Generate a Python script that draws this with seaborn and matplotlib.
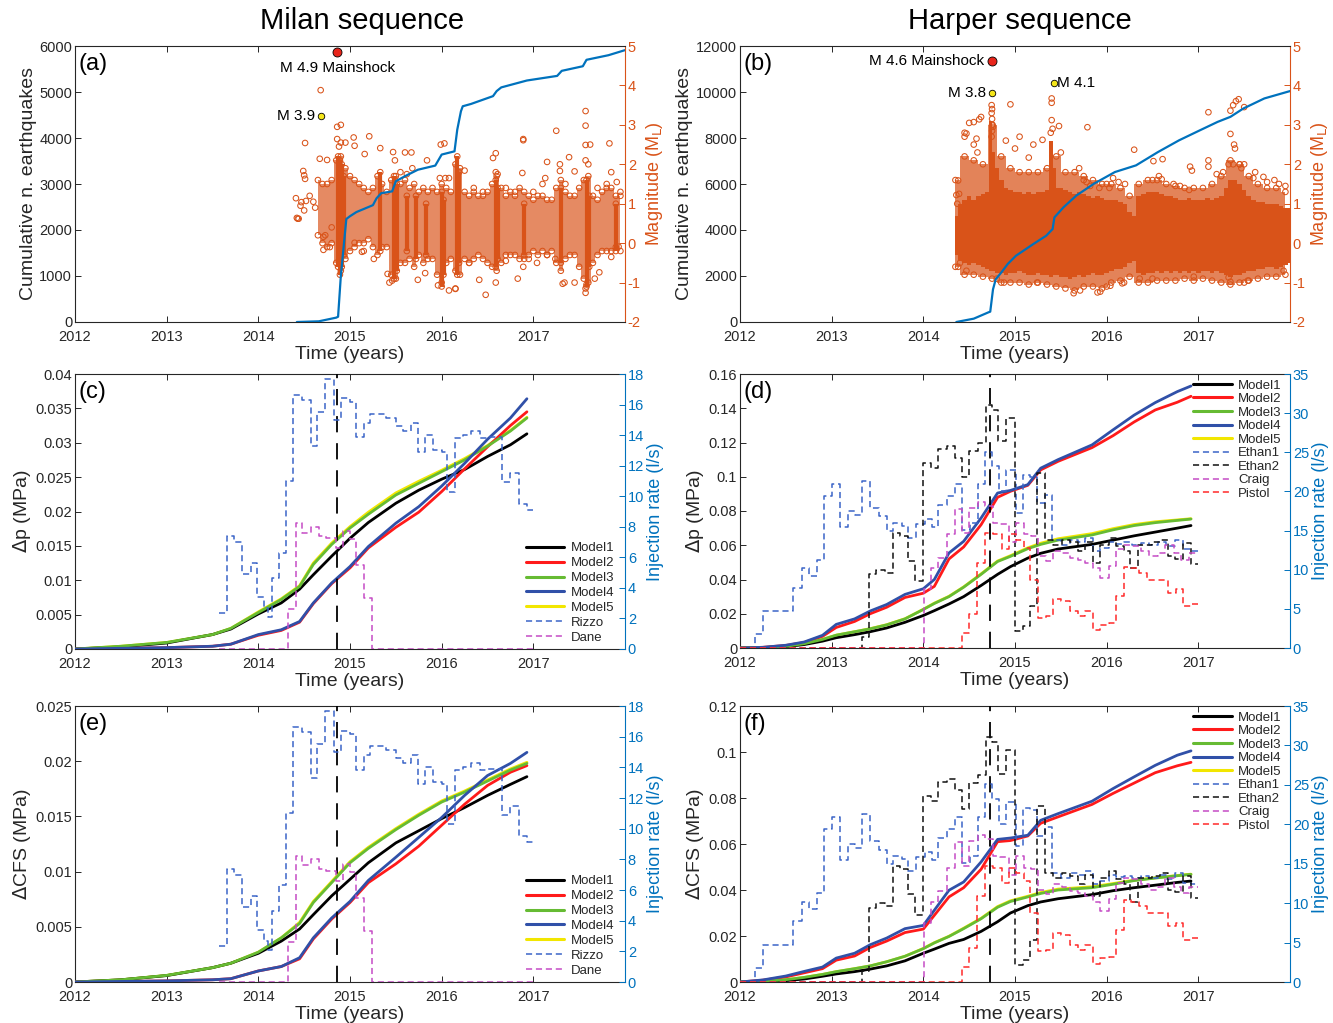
import matplotlib
matplotlib.use('Agg')
import numpy as np
import pandas as pd
import matplotlib.pyplot as plt
import seaborn as sns
from matplotlib.lines import Line2D
from matplotlib.ticker import FuncFormatter

# ------------------------------------------------------------------ data
years = [2012, 2013, 2014, 2015, 2016, 2017]

# (a) Milan: cumulative number of earthquakes
cum_a_t = [2014.42, 2014.66, 2014.85, 2014.87, 2014.90, 2014.96, 2015.0, 2015.07, 2015.25, 2015.29,
           2015.34, 2015.46, 2015.50, 2015.60, 2015.74, 2015.93, 2016.0, 2016.14, 2016.17, 2016.21,
           2016.23, 2016.32, 2016.56, 2016.60, 2016.65, 2016.93, 2017.26, 2017.31, 2017.54, 2017.58,
           2017.82, 2018.0]
cum_a_n = [0, 15, 95, 115, 1000, 2240, 2300, 2390, 2540, 2690, 2800, 2840, 3060, 3170, 3310, 3400,
           3640, 3710, 4180, 4580, 4690, 4740, 4910, 5020, 5100, 5250, 5350, 5460, 5560, 5700, 5800, 5910]

# (a) magnitude cloud: moderate-density band (t, low, high)
band_a = [(2014.65, 0.2, 1.6), (2014.70, 0.0, 1.5), (2014.75, -0.1, 1.5), (2014.80, 0.0, 1.6),
          (2014.85, -0.5, 2.1), (2014.90, -0.7, 2.2), (2014.95, -0.4, 1.9), (2015.00, -0.2, 1.7),
          (2015.05, -0.1, 1.6), (2015.10, 0.0, 1.5), (2015.15, 0.0, 1.4), (2015.20, 0.1, 1.3),
          (2015.25, -0.1, 1.4), (2015.30, -0.3, 1.7), (2015.35, -0.1, 1.5), (2015.40, -0.1, 1.3),
          (2015.45, -0.8, 1.6), (2015.50, -0.9, 1.7), (2015.55, -0.5, 1.5), (2015.60, -0.5, 1.6),
          (2015.65, -0.4, 1.4), (2015.70, -0.6, 1.5), (2015.75, -0.3, 1.3), (2015.80, -0.5, 1.4),
          (2015.85, -0.4, 1.3), (2015.90, -0.4, 1.4), (2015.95, -0.8, 1.3), (2016.00, -1.0, 1.5),
          (2016.05, -0.5, 1.4), (2016.10, -0.4, 1.3), (2016.15, -0.7, 2.0), (2016.20, -0.8, 1.9),
          (2016.25, -0.4, 1.3), (2016.30, -0.5, 1.2), (2016.35, -0.4, 1.3), (2016.40, -0.3, 1.2),
          (2016.45, -0.4, 1.2), (2016.50, -0.5, 1.3), (2016.55, -0.6, 1.5), (2016.60, -0.7, 1.7),
          (2016.65, -0.5, 1.4), (2016.70, -0.3, 1.2), (2016.75, -0.3, 1.3), (2016.80, -0.3, 1.2),
          (2016.85, -0.4, 1.4), (2016.90, -0.4, 1.3), (2016.95, -0.3, 1.2), (2017.00, -0.2, 1.1),
          (2017.05, -0.3, 1.2), (2017.10, -0.2, 1.2), (2017.15, -0.3, 1.1), (2017.20, -0.2, 1.1),
          (2017.25, -0.5, 1.4), (2017.30, -0.7, 1.6), (2017.35, -0.4, 1.3), (2017.40, -0.3, 1.2),
          (2017.45, -0.3, 1.2), (2017.50, -0.6, 1.4), (2017.55, -0.9, 1.6), (2017.60, -1.0, 1.7),
          (2017.65, -0.5, 1.2), (2017.70, -0.3, 1.1), (2017.75, -0.2, 1.3), (2017.80, -0.2, 1.4),
          (2017.85, -0.2, 1.4), (2017.90, -0.1, 1.2), (2017.95, -0.2, 1.2)]
# (a) dense vertical streaks (t, low, high)
streak_a = [(2014.87, -0.6, 2.2), (2014.89, -0.8, 2.1), (2014.91, -0.6, 2.0), (2014.93, -0.3, 1.7),
            (2015.33, -0.2, 1.8), (2015.48, -0.9, 1.7), (2015.51, -0.7, 1.5), (2015.62, -0.2, 1.2),
            (2015.72, -0.4, 1.2), (2015.83, -0.3, 1.0), (2016.00, -1.1, 1.3), (2016.02, -0.8, 1.1),
            (2016.17, -0.8, 2.2), (2016.19, -0.5, 1.8), (2016.59, -0.6, 1.6), (2016.61, -0.4, 1.4),
            (2016.90, -0.3, 1.0), (2017.30, -0.5, 1.4), (2017.58, -1.1, 1.6), (2017.61, -0.6, 1.2),
            (2017.90, -0.2, 1.0)]
# (a) isolated events (t, magnitude)
events_a = [(2014.41, 1.14), (2014.42, 0.64), (2014.44, 0.62), (2014.51, 2.54), (2014.49, 1.83),
            (2014.50, 1.72), (2014.51, 1.63), (2014.47, 1.04), (2014.52, 1.07), (2014.50, 0.83),
            (2014.46, 0.95), (2014.43, 0.62), (2014.60, 1.05), (2014.56, 1.2), (2014.62, 0.9),
            (2014.68, 3.88), (2014.67, 2.14), (2014.75, 2.11), (2014.71, 0.16), (2014.71, -0.17),
            (2014.80, 0.4), (2014.73, 0.2), (2014.78, -0.1), (2014.86, 2.95), (2014.90, 3.0),
            (2014.86, 2.64), (2014.90, 2.55), (2014.95, 2.55), (2014.88, 2.45), (2015.04, 2.68),
            (2015.21, 2.71), (2015.05, 2.47), (2015.16, 2.26), (2015.33, 2.41), (2015.47, 2.31),
            (2015.49, 2.1), (2015.05, 0.01), (2015.13, -0.22), (2015.15, -0.2), (2015.26, -0.40),
            (2015.41, -0.78), (2015.43, -1.0), (2015.46, -0.95), (2015.74, -0.93), (2015.82, -0.76),
            (2015.96, -1.07), (2016.15, -1.16), (2015.60, 2.3), (2015.67, 2.3), (2015.84, 2.1),
            (2015.99, 2.5), (2016.03, 2.53), (2015.55, 1.8), (2015.62, 1.75), (2015.68, 1.9),
            (2015.98, 1.65), (2016.04, 1.65), (2016.08, 1.65), (2017.57, 3.35), (2017.57, 2.98),
            (2017.25, 2.85), (2016.89, 2.64), (2016.89, 2.61), (2017.57, 2.49), (2017.62, 2.5),
            (2017.83, 2.53), (2016.59, 2.28), (2016.56, 2.16), (2017.15, 2.06), (2017.39, 2.18),
            (2017.57, 2.1), (2017.60, 2.0), (2017.29, 2.0), (2017.29, 1.83), (2017.45, 1.82),
            (2016.25, 1.84), (2016.59, 1.8), (2016.61, 1.75), (2016.88, 1.78), (2017.13, 1.65),
            (2017.85, 1.8), (2017.91, 1.55), (2016.41, -0.93), (2016.48, -1.31), (2016.83, -0.9),
            (2016.59, -1.0), (2017.04, -0.5), (2017.32, -1.03), (2017.45, -1.0), (2017.57, -1.26),
            (2017.57, -1.15), (2017.58, -1.05), (2017.67, -0.9), (2017.72, -0.74), (2016.89, -0.6),
            (2017.24, -0.4), (2016.08, -1.2), (2017.93, -0.09), (2016.15, -1.15), (2017.34, -1.0),
            (2016.35, 1.4), (2016.45, 1.3), (2016.70, 1.4), (2016.80, 1.3), (2017.00, 1.3),
            (2017.10, 1.5), (2017.35, 1.5), (2017.70, 1.4), (2017.80, 1.5), (2017.95, 1.3),
            (2016.30, -0.5), (2016.70, -0.45), (2016.95, -0.4), (2017.15, -0.3), (2017.85, -0.35)]
main_a = (2014.86, 4.86)
fore_a = (2014.68, 3.23)

# (b) Harper: cumulative number of earthquakes
cum_b_t = [2014.36, 2014.55, 2014.71, 2014.73, 2014.76, 2014.79, 2014.85, 2014.92, 2015.01, 2015.20,
           2015.34, 2015.41, 2015.43, 2015.53, 2015.67, 2015.86, 2016.09, 2016.32, 2016.56, 2016.79,
           2017.02, 2017.21, 2017.35, 2017.49, 2017.72, 2018.0]
cum_b_n = [0, 145, 420, 450, 1420, 1860, 2150, 2520, 2880, 3390, 3750, 4040, 4550, 4990, 5500, 6010,
           6520, 6810, 7390, 7900, 8340, 8700, 8920, 9280, 9720, 10040]

# (b) magnitude cloud: outer band and dense core (t, low, high)
band_b = [(2014.35, -0.6, 1.6), (2014.45, -0.8, 2.2), (2014.55, -0.8, 2.1), (2014.65, -0.85, 2.0),
          (2014.75, -0.9, 3.0), (2014.85, -1.0, 2.2), (2014.95, -1.0, 1.9), (2015.05, -1.0, 1.8),
          (2015.15, -1.05, 1.8), (2015.25, -1.0, 1.8), (2015.35, -1.05, 1.9), (2015.45, -1.1, 2.2),
          (2015.55, -1.15, 1.8), (2015.65, -1.2, 1.8), (2015.75, -1.1, 1.7), (2015.85, -1.1, 1.6),
          (2015.95, -1.15, 1.5), (2016.05, -1.0, 1.5), (2016.15, -0.95, 1.4), (2016.25, -0.85, 1.2),
          (2016.35, -1.0, 1.5), (2016.45, -1.0, 1.6), (2016.55, -0.95, 1.6), (2016.65, -0.95, 1.5),
          (2016.75, -0.95, 1.45), (2016.85, -0.9, 1.4), (2016.95, -0.95, 1.4), (2017.05, -0.9, 1.4),
          (2017.15, -0.95, 1.5), (2017.25, -1.0, 1.7), (2017.35, -1.05, 2.1), (2017.45, -1.0, 2.0),
          (2017.55, -0.95, 1.7), (2017.65, -0.9, 1.5), (2017.75, -0.85, 1.4), (2017.85, -0.85, 1.4),
          (2017.95, -0.8, 1.3)]
core_b = [(2014.35, -0.3, 0.7), (2014.40, -0.45, 1.0), (2014.45, -0.5, 1.1), (2014.50, -0.55, 1.2),
          (2014.55, -0.5, 1.1), (2014.60, -0.55, 1.2), (2014.65, -0.6, 1.25), (2014.70, -0.65, 1.3),
          (2014.73, -0.7, 3.1), (2014.76, -0.7, 2.3), (2014.80, -0.75, 1.9), (2014.85, -0.75, 1.6),
          (2014.90, -0.8, 1.4), (2014.95, -0.75, 1.35), (2015.00, -0.75, 1.3), (2015.05, -0.7, 1.3),
          (2015.10, -0.75, 1.25), (2015.15, -0.8, 1.3), (2015.20, -0.8, 1.25), (2015.25, -0.75, 1.3),
          (2015.30, -0.8, 1.3), (2015.35, -0.8, 1.35), (2015.40, -0.85, 2.6), (2015.43, -0.8, 1.9),
          (2015.46, -0.8, 1.4), (2015.50, -0.85, 1.4), (2015.55, -0.85, 1.35), (2015.60, -0.9, 1.3),
          (2015.65, -0.85, 1.25), (2015.70, -0.8, 1.3), (2015.75, -0.85, 1.25), (2015.80, -0.8, 1.2),
          (2015.85, -0.75, 1.15), (2015.90, -0.8, 1.2), (2015.95, -0.8, 1.15), (2016.00, -0.75, 1.1),
          (2016.05, -0.7, 1.1), (2016.10, -0.65, 1.1), (2016.15, -0.65, 1.05), (2016.20, -0.6, 1.0),
          (2016.25, -0.5, 0.8), (2016.30, -0.45, 0.7), (2016.35, -0.75, 1.2), (2016.40, -0.8, 1.25),
          (2016.45, -0.75, 1.3), (2016.50, -0.75, 1.3), (2016.55, -0.7, 1.3), (2016.60, -0.75, 1.25),
          (2016.65, -0.7, 1.2), (2016.70, -0.75, 1.2), (2016.75, -0.7, 1.15), (2016.80, -0.75, 1.1),
          (2016.85, -0.7, 1.1), (2016.90, -0.75, 1.15), (2016.95, -0.7, 1.1), (2017.00, -0.75, 1.1),
          (2017.05, -0.7, 1.1), (2017.10, -0.7, 1.15), (2017.15, -0.75, 1.1), (2017.20, -0.7, 1.15),
          (2017.25, -0.75, 1.2), (2017.30, -0.8, 1.4), (2017.35, -0.85, 1.6), (2017.40, -0.8, 1.6),
          (2017.45, -0.8, 1.5), (2017.50, -0.75, 1.35), (2017.55, -0.7, 1.2), (2017.60, -0.7, 1.1),
          (2017.65, -0.65, 1.05), (2017.70, -0.65, 1.05), (2017.75, -0.6, 1.0), (2017.80, -0.6, 1.0),
          (2017.85, -0.65, 1.0), (2017.90, -0.6, 0.95), (2017.95, -0.55, 0.9), (2018.00, -0.5, 0.9)]
events_b = [(2014.38, 1.59), (2014.39, 1.25), (2014.45, 2.8), (2014.47, 2.78), (2014.55, 3.07),
            (2014.63, 3.2), (2014.58, 2.65), (2014.50, 3.05), (2014.61, 3.14), (2014.45, 2.7),
            (2014.55, 2.5), (2014.59, 2.3), (2014.36, 1.22), (2014.37, 1.0), (2014.38, -0.6),
            (2014.40, -0.5), (2014.47, -0.7), (2014.80, -0.9), (2014.88, -1.0), (2014.745, 3.5),
            (2014.75, 3.4), (2014.745, 3.3), (2014.75, 3.15), (2014.755, 3.0), (2014.75, 2.85),
            (2014.745, 2.7), (2014.76, 2.95), (2014.95, 3.52), (2015.0, 2.4), (2015.15, 2.17),
            (2015.30, 2.62), (2015.24, -1.0), (2014.9, 2.6), (2015.05, 2.7), (2015.2, 2.5),
            (2015.40, 3.67), (2015.40, 3.56), (2015.40, 3.12), (2015.41, 2.9), (2015.39, 2.8),
            (2015.48, 2.97), (2015.5, 2.3), (2015.79, 2.94), (2015.70, 1.9), (2015.75, 1.6),
            (2015.78, 1.55), (2015.82, 1.45), (2015.92, 1.4), (2016.03, 1.4), (2015.64, -1.27),
            (2015.71, -1.2), (2015.90, -1.25), (2016.0, -1.1), (2015.93, -1.23), (2016.04, -1.08),
            (2016.19, -1.0), (2016.30, 2.37), (2016.61, 2.13), (2016.51, 2.08), (2016.91, 1.94),
            (2016.93, 1.84), (2017.11, 3.32), (2017.35, 3.36), (2017.38, 3.5), (2017.41, 3.6),
            (2017.44, 3.65), (2017.50, 3.45), (2017.35, 2.77), (2017.39, 2.5), (2017.40, 2.4),
            (2017.11, 2.1), (2017.11, 1.94), (2017.33, 2.0), (2017.38, 2.0), (2017.45, 2.0),
            (2017.5, 2.0), (2017.47, 1.9), (2017.62, 1.8), (2017.71, 1.68), (2017.83, 1.6),
            (2017.95, 1.45), (2016.07, 1.65), (2016.13, 1.55), (2016.0, 1.5), (2016.2, 1.5),
            (2016.5, 1.6), (2016.57, 1.7), (2016.6, 1.62), (2016.73, 1.5), (2016.8, 1.45),
            (2016.9, 1.35), (2016.17, -1.02), (2016.36, -0.9), (2016.5, -0.9), (2016.95, -0.85),
            (2017.33, -0.87), (2017.50, -1.0), (2017.93, -0.7), (2017.35, -0.98), (2017.54, -0.95),
            (2017.2, 1.75), (2017.27, 1.8), (2017.6, 1.65), (2017.75, 1.55), (2017.88, 1.5)]
main_b = (2014.75, 4.62)
fore_b = (2014.75, 3.81)
after_b = (2015.43, 4.07)

# Milan models (c) pore pressure and (e) Coulomb stress
t_milan = [2012.0, 2012.5, 2013.0, 2013.5, 2013.7, 2014.0, 2014.25, 2014.45, 2014.6, 2014.8, 2015.0,
           2015.2, 2015.5, 2015.75, 2016.0, 2016.25, 2016.5, 2016.75, 2016.93]
dp_milan = {
    'Model1': [0, 0.0003, 0.00087, 0.0021, 0.0029, 0.0051, 0.0067, 0.0087, 0.0108, 0.0135, 0.0161,
               0.0184, 0.0212, 0.0231, 0.0247, 0.0261, 0.0280, 0.0297, 0.0313],
    'Model2': [0, 0.0001, 0.0002, 0.0004, 0.0007, 0.0020, 0.0027, 0.0039, 0.0066, 0.0095, 0.0118,
               0.0147, 0.0177, 0.0199, 0.0229, 0.0262, 0.0294, 0.0325, 0.0345],
    'Model3': [0, 0.0004, 0.00095, 0.0021, 0.0030, 0.0053, 0.0072, 0.0091, 0.0123, 0.0152, 0.0176,
               0.0196, 0.0224, 0.0241, 0.0258, 0.0275, 0.0295, 0.0317, 0.0336],
    'Model4': [0, 0.0001, 0.0002, 0.0004, 0.0007, 0.0021, 0.0028, 0.0040, 0.0067, 0.0096, 0.0120,
               0.0149, 0.0183, 0.0207, 0.0237, 0.0270, 0.0305, 0.0336, 0.0364],
    'Model5': [0, 0.0004, 0.00095, 0.0021, 0.0030, 0.0054, 0.0073, 0.0092, 0.0125, 0.0154, 0.0178,
               0.0199, 0.0227, 0.0244, 0.0260, 0.0277, 0.0296, 0.0318, 0.0337],
}
cfs_milan = {
    'Model1': [0, 0.0002, 0.00058, 0.0013, 0.0017, 0.0026, 0.0037, 0.0048, 0.0061, 0.0078, 0.0093,
               0.0108, 0.0126, 0.0137, 0.0148, 0.0158, 0.0169, 0.0179, 0.0186],
    'Model2': [0, 0.00005, 0.0001, 0.0002, 0.0003, 0.0010, 0.0014, 0.0021, 0.0039, 0.0057, 0.0072,
               0.0090, 0.0107, 0.0123, 0.0142, 0.0161, 0.0178, 0.0190, 0.0196],
    'Model3': [0, 0.0002, 0.0006, 0.0013, 0.0017, 0.0027, 0.0040, 0.0053, 0.0072, 0.0090, 0.0108,
               0.0121, 0.0138, 0.0151, 0.0163, 0.0172, 0.0182, 0.0192, 0.0198],
    'Model4': [0, 0.00005, 0.0001, 0.0002, 0.0003, 0.0010, 0.0014, 0.0022, 0.0040, 0.0058, 0.0073,
               0.0092, 0.0113, 0.0131, 0.0149, 0.0169, 0.0187, 0.0198, 0.0208],
    'Model5': [0, 0.0002, 0.0006, 0.0013, 0.0017, 0.0027, 0.0040, 0.0054, 0.0073, 0.0091, 0.0109,
               0.0122, 0.0139, 0.0152, 0.0164, 0.0173, 0.0183, 0.0193, 0.0199],
}

# Harper models (d) pore pressure and (f) Coulomb stress
t_harper = [2012.0, 2012.25, 2012.5, 2012.7, 2012.9, 2013.05, 2013.25, 2013.42, 2013.6, 2013.8, 2014.0,
            2014.12, 2014.28, 2014.44, 2014.63, 2014.81, 2014.95, 2015.14, 2015.28, 2015.47, 2015.84,
            2016.07, 2016.30, 2016.53, 2016.77, 2016.92]
dp_harper = {
    'Model1': [0, 0.0002, 0.0008, 0.002, 0.004, 0.006, 0.0078, 0.0095, 0.0117, 0.015, 0.019, 0.0218,
               0.0257, 0.030, 0.0365, 0.043, 0.0475, 0.0525, 0.0553, 0.0578, 0.0605, 0.063, 0.0655,
               0.0677, 0.0700, 0.0715],
    'Model2': [0, 0.0004, 0.0015, 0.0032, 0.0068, 0.012, 0.0155, 0.020, 0.0238, 0.0295, 0.032, 0.036,
               0.052, 0.059, 0.072, 0.088, 0.0915, 0.095, 0.104, 0.109, 0.117, 0.124, 0.132, 0.139,
               0.1435, 0.147],
    'Model3': [0, 0.0002, 0.001, 0.0025, 0.005, 0.0075, 0.0095, 0.0112, 0.0135, 0.017, 0.0225, 0.026,
               0.030, 0.0355, 0.043, 0.0505, 0.0535, 0.058, 0.0605, 0.063, 0.066, 0.069, 0.0715,
               0.0732, 0.0745, 0.0753],
    'Model4': [0, 0.0004, 0.0016, 0.0035, 0.0074, 0.0138, 0.017, 0.0216, 0.0254, 0.0313, 0.0346, 0.040,
               0.0555, 0.0623, 0.0759, 0.0905, 0.092, 0.0954, 0.105, 0.110, 0.1186, 0.1274, 0.136,
               0.1433, 0.1497, 0.153],
    'Model5': [0, 0.0002, 0.001, 0.0025, 0.005, 0.0075, 0.0095, 0.0113, 0.0136, 0.0171, 0.0226, 0.0262,
               0.0302, 0.0357, 0.0433, 0.0508, 0.0539, 0.0585, 0.0612, 0.0638, 0.0668, 0.0697, 0.0721,
               0.0737, 0.0748, 0.0755],
}
cfs_harper = {
    'Model1': [0, 0.0002, 0.0006, 0.0013, 0.0025, 0.0035, 0.0045, 0.0056, 0.007, 0.0092, 0.0125,
               0.0143, 0.0168, 0.0185, 0.022, 0.0262, 0.030, 0.0332, 0.0348, 0.0362, 0.0380, 0.0397,
               0.0410, 0.0421, 0.0433, 0.0439],
    'Model2': [0, 0.0008, 0.0022, 0.0040, 0.0058, 0.0095, 0.0113, 0.0150, 0.0178, 0.0215, 0.0230,
               0.029, 0.037, 0.041, 0.049, 0.061, 0.0615, 0.0635, 0.069, 0.0718, 0.0772, 0.082,
               0.0865, 0.091, 0.094, 0.0955],
    'Model3': [0, 0.0003, 0.001, 0.002, 0.0033, 0.0045, 0.0058, 0.007, 0.0088, 0.0112, 0.0145, 0.017,
               0.0198, 0.0232, 0.0275, 0.0325, 0.035, 0.037, 0.0385, 0.040, 0.041, 0.0425, 0.0441,
               0.0452, 0.0462, 0.0468],
    'Model4': [0, 0.0009, 0.0026, 0.0046, 0.0065, 0.0104, 0.0125, 0.0162, 0.0191, 0.0232, 0.0246,
               0.0312, 0.0399, 0.0435, 0.0522, 0.062, 0.0626, 0.0638, 0.0703, 0.0732, 0.0786, 0.0841,
               0.0892, 0.0942, 0.0986, 0.1005],
    'Model5': [0, 0.0003, 0.001, 0.002, 0.0033, 0.0045, 0.0058, 0.007, 0.0088, 0.0112, 0.0146, 0.0171,
               0.0199, 0.0234, 0.0277, 0.0328, 0.0353, 0.0373, 0.0389, 0.0404, 0.0414, 0.0428, 0.0443,
               0.0453, 0.0463, 0.0469],
}

# injection rates (l/s), step series (start time, rate)
rizzo = [(2013.57, 2.35), (2013.66, 7.4), (2013.73, 7.0), (2013.82, 4.9), (2013.92, 5.6), (2013.99, 3.4),
         (2014.06, 2.7), (2014.10, 2.1), (2014.15, 4.65), (2014.23, 6.3), (2014.30, 11.0), (2014.38, 16.6),
         (2014.48, 16.3), (2014.57, 13.3), (2014.64, 15.5), (2014.73, 17.7), (2014.83, 15.0),
         (2014.90, 16.4), (2015.00, 16.2), (2015.07, 13.85), (2015.15, 14.8), (2015.22, 15.4),
         (2015.39, 15.1), (2015.50, 14.6), (2015.58, 14.3), (2015.66, 14.8), (2015.74, 12.9),
         (2015.82, 14.0), (2015.90, 13.05), (2016.00, 12.9), (2016.06, 10.3), (2016.14, 13.8),
         (2016.23, 14.0), (2016.32, 14.3), (2016.42, 13.8), (2016.51, 13.9), (2016.66, 10.9),
         (2016.75, 11.5), (2016.84, 9.5), (2016.93, 9.1), (2017.00, 9.1)]
dane = [(2013.57, 0), (2014.32, 2.6), (2014.41, 8.25), (2014.48, 7.6), (2014.57, 8.0), (2014.66, 7.4),
        (2014.74, 7.25), (2014.85, 6.6), (2014.92, 7.7), (2015.00, 7.2), (2015.06, 5.5), (2015.15, 3.35),
        (2015.24, 0), (2017.00, 0)]
ethan1 = [(2012.0, 0), (2012.163, 1.74), (2012.256, 4.7), (2012.58, 7.7), (2012.674, 10.2), (2012.758, 9.2),
          (2012.837, 11.3), (2012.916, 19.4), (2013.009, 20.9), (2013.093, 15.5), (2013.177, 17.5),
          (2013.256, 17.0), (2013.326, 21.3), (2013.419, 17.9), (2013.512, 16.8), (2013.605, 15.0),
          (2013.674, 16.0), (2013.767, 15.6), (2013.837, 14.1), (2013.921, 15.8), (2014.014, 16.5),
          (2014.093, 15.5), (2014.163, 18.3), (2014.256, 19.4), (2014.34, 20.9), (2014.423, 15.1),
          (2014.512, 16.0), (2014.595, 20.9), (2014.674, 25.1), (2014.744, 23.2), (2014.823, 20.0),
          (2014.907, 22.8), (2015.009, 17.2), (2015.084, 22.1), (2015.163, 21.8), (2015.242, 18.5),
          (2015.326, 19.6), (2015.409, 13.8), (2015.502, 13.2), (2015.595, 13.8), (2015.688, 13.6),
          (2015.767, 14.1), (2015.851, 12.4), (2015.93, 12.8), (2016.023, 13.6), (2016.107, 13.3),
          (2016.186, 13.5), (2016.279, 13.2), (2016.372, 13.4), (2016.465, 13.2), (2016.558, 13.6),
          (2016.651, 13.0), (2016.744, 13.8), (2016.837, 12.6), (2016.921, 12.4), (2017.0, 12.4)]
ethan2 = [(2012.0, 0), (2013.335, 1.4), (2013.409, 9.4), (2013.488, 10.0), (2013.581, 9.6), (2013.674, 14.7),
          (2013.744, 14.3), (2013.837, 11.1), (2013.907, 8.5), (2014.0, 23.6), (2014.079, 23.0),
          (2014.163, 25.4), (2014.256, 25.8), (2014.34, 24.3), (2014.419, 21.9), (2014.498, 25.2),
          (2014.595, 26.2), (2014.684, 31.1), (2014.744, 30.4), (2014.814, 26.4), (2014.907, 29.4),
          (2015.0, 2.2), (2015.084, 2.8), (2015.163, 5.35), (2015.242, 22.3), (2015.326, 13.8),
          (2015.419, 13.2), (2015.512, 13.8), (2015.605, 13.5), (2015.688, 12.4), (2015.767, 13.6),
          (2015.851, 10.9), (2015.93, 13.2), (2016.023, 14.1), (2016.107, 13.0), (2016.186, 12.4),
          (2016.256, 10.2), (2016.34, 13.2), (2016.419, 13.2), (2016.498, 13.5), (2016.581, 13.8),
          (2016.665, 11.7), (2016.744, 11.4), (2016.837, 13.4), (2016.921, 10.7), (2017.0, 10.7)]
craig = [(2012.0, 0), (2014.005, 7.5), (2014.079, 10.2), (2014.163, 11.5), (2014.256, 14.5), (2014.34, 17.7),
         (2014.419, 14.7), (2014.498, 17.9), (2014.595, 18.7), (2014.674, 18.1), (2014.758, 16.0),
         (2014.837, 15.9), (2014.93, 13.6), (2015.009, 16.0), (2015.093, 14.5), (2015.177, 14.3),
         (2015.256, 11.7), (2015.335, 11.1), (2015.419, 12.4), (2015.512, 12.1), (2015.605, 11.5),
         (2015.688, 11.3), (2015.767, 10.9), (2015.851, 10.2), (2015.93, 9.0), (2016.023, 10.5),
         (2016.107, 12.6), (2016.186, 13.2), (2016.279, 13.0), (2016.372, 12.4), (2016.465, 11.7),
         (2016.558, 12.1), (2016.637, 13.2), (2016.73, 12.1), (2016.814, 11.3), (2016.898, 12.1),
         (2017.0, 12.1)]
pistol = [(2012.0, 0), (2014.419, 1.95), (2014.498, 4.3), (2014.581, 10.9), (2014.674, 14.7), (2014.758, 14.5),
          (2014.86, 12.6), (2014.93, 14.5), (2015.009, 13.8), (2015.093, 12.8), (2015.163, 8.75),
          (2015.256, 3.87), (2015.335, 4.1), (2015.419, 6.2), (2015.502, 6.0), (2015.595, 4.7),
          (2015.688, 4.1), (2015.767, 4.7), (2015.851, 2.3), (2015.93, 3.0), (2016.023, 3.2),
          (2016.107, 6.6), (2016.186, 10.4), (2016.27, 10.2), (2016.349, 9.6), (2016.442, 8.75),
          (2016.535, 8.7), (2016.665, 7.05), (2016.758, 7.5), (2016.837, 5.35), (2016.921, 5.6),
          (2017.0, 5.6)]
mainshock_milan_t = 2014.855
mainshock_harper_t = 2014.73

# ------------------------------------------------------------------ style
sns.set_theme(style='ticks')
plt.rcParams['font.family'] = ['Liberation Sans', 'DejaVu Sans']
plt.rcParams['axes.unicode_minus'] = False

ORANGE = '#D95319'
MBLUE = '#0072BD'
GRAY = '#262626'
MODEL_COLORS = {'Model1': '#000000', 'Model2': '#FF1A1A', 'Model3': '#66BB33',
                'Model4': '#3050A8', 'Model5': '#F2E600'}
MODEL_Z = {'Model5': 2, 'Model1': 3, 'Model2': 3, 'Model3': 4, 'Model4': 5}
DASH = (0, (4, 2.5))


def fmt(v, pos):
    s = ('%.4f' % v).rstrip('0').rstrip('.')
    return '0' if s in ('-0', '') else s


fig = plt.figure(figsize=(13.33, 10.23), dpi=100)
W = 550 / 1333
pos = {
    'a': [75 / 1333, 1 - 322 / 1023, W, 276 / 1023],
    'b': [740 / 1333, 1 - 322 / 1023, W, 276 / 1023],
    'c': [75 / 1333, 1 - 649 / 1023, W, 275 / 1023],
    'd': [740 / 1333, 1 - 648 / 1023, W, 274 / 1023],
    'e': [75 / 1333, 1 - 982 / 1023, W, 276 / 1023],
    'f': [740 / 1333, 1 - 982 / 1023, W, 276 / 1023],
}


def setup_main(ax, ylim, yticks, ylabel, letter):
    ax.set_xlim(2012, 2018)
    ax.set_ylim(*ylim)
    ax.set_xticks(years)
    ax.set_yticks(yticks)
    ax.xaxis.set_major_formatter(FuncFormatter(lambda v, p: '%d' % v))
    ax.yaxis.set_major_formatter(FuncFormatter(fmt))
    ax.tick_params(axis='both', direction='in', length=4, width=0.7, labelsize=10.5,
                   labelcolor=GRAY, color=GRAY, top=True, right=False)
    ax.tick_params(axis='x', pad=5.5)
    ax.tick_params(axis='y', pad=2)
    ax.set_xlabel('Time (years)', fontsize=14, color=GRAY, labelpad=1.5)
    ax.set_ylabel(ylabel, fontsize=14, color=GRAY, labelpad=2)
    for s in ['left', 'bottom', 'top']:
        ax.spines[s].set_color(GRAY)
        ax.spines[s].set_linewidth(0.8)
    ax.spines['right'].set_visible(False)
    ax.text(0.006, 0.975, letter, transform=ax.transAxes, ha='left', va='top',
            fontsize=17, color='black', zorder=20)


def setup_twin(ax2, ylim, yticks, ylabel, color):
    ax2.set_ylim(*ylim)
    ax2.set_yticks(yticks)
    ax2.yaxis.set_major_formatter(FuncFormatter(fmt))
    ax2.tick_params(axis='y', direction='in', length=4, width=0.7, labelsize=10.5,
                    colors=color, pad=2)
    ax2.spines['right'].set_color(color)
    ax2.spines['right'].set_linewidth(0.8)
    for s in ['left', 'top', 'bottom']:
        ax2.spines[s].set_visible(False)
    ax2.set_ylabel(ylabel, fontsize=13, color=color, labelpad=2)


def hollow(ax2, xs, ys, z):
    sns.scatterplot(x=list(xs), y=list(ys), ax=ax2, s=16, facecolor='none',
                    edgecolor=ORANGE, linewidth=0.75, legend=False, zorder=z)


def draw_cloud(ax2, band, core, streaks, events, band_alpha):
    bt, bl, bh = zip(*band)
    ax2.fill_between(bt, bl, bh, step='mid', color=ORANGE, alpha=band_alpha, lw=0, zorder=1)
    hollow(ax2, bt + bt, bl + bh, 2)       # ragged rim of the band
    if core:
        ct, cl, ch = zip(*core)
        ax2.fill_between(ct, cl, ch, step='mid', color=ORANGE, alpha=1.0, lw=0, zorder=2)
    if streaks:
        st, sl, sh = zip(*streaks)
        ax2.vlines(st, sl, sh, color=ORANGE, lw=3.0, zorder=2)
        hollow(ax2, st + st, sl + sh, 2)
    et, em = zip(*events)
    hollow(ax2, et, em, 3)


def seismic_panel(key, letter, cum_t, cum_n, ylim, yticks, band, core, streaks, events, band_alpha):
    ax = fig.add_axes(pos[key])
    ax2 = ax.twinx()
    draw_cloud(ax2, band, core, streaks, events, band_alpha)
    sns.lineplot(x=cum_t, y=cum_n, ax=ax, color=MBLUE, lw=1.6, estimator=None, legend=False, zorder=5)
    ax.set_zorder(ax2.get_zorder() + 1)
    ax.patch.set_visible(False)
    setup_main(ax, ylim, yticks, 'Cumulative n. earthquakes', letter)
    setup_twin(ax2, (-2, 5), list(range(-2, 6)), r'Magnitude (M$_\mathrm{L}$)', ORANGE)
    ax2.set_xlim(2012, 2018)
    return ax, ax2


# ---------------- (a)
ax_a, ax_a2 = seismic_panel('a', '(a)', cum_a_t, cum_a_n, (0, 6000), list(range(0, 6001, 1000)),
                            band_a, None, streak_a, events_a, 0.68)
ax_a2.scatter([main_a[0]], [main_a[1]], s=42, color='#E8251B', edgecolor='black', lw=0.6, zorder=6)
ax_a2.scatter([fore_a[0]], [fore_a[1]], s=22, color='#F5E61A', edgecolor='black', lw=0.6, zorder=6)
ax_a2.text(main_a[0], main_a[1] - 0.42, 'M 4.9 Mainshock', ha='center', va='center', fontsize=11, color='black')
ax_a2.text(fore_a[0] - 0.06, fore_a[1], 'M 3.9', ha='right', va='center', fontsize=11, color='black')

# ---------------- (b)
ax_b, ax_b2 = seismic_panel('b', '(b)', cum_b_t, cum_b_n, (0, 12000), list(range(0, 12001, 2000)),
                            band_b, core_b, None, events_b, 0.72)
ax_b2.scatter([main_b[0]], [main_b[1]], s=42, color='#E8251B', edgecolor='black', lw=0.6, zorder=6)
ax_b2.scatter([fore_b[0], after_b[0]], [fore_b[1], after_b[1]], s=22, color='#F5E61A',
              edgecolor='black', lw=0.6, zorder=6)
ax_b2.text(main_b[0] - 0.09, main_b[1], 'M 4.6 Mainshock', ha='right', va='center', fontsize=11, color='black')
ax_b2.text(fore_b[0] - 0.06, fore_b[1], 'M 3.8', ha='right', va='center', fontsize=11, color='black')
ax_b2.text(after_b[0] + 0.03, after_b[1], 'M 4.1', ha='left', va='center', fontsize=11, color='black')

fig.text(362 / 1333, 1 - 21 / 1023, 'Milan sequence', ha='center', va='center', fontsize=21, color='black')
fig.text(1020 / 1333, 1 - 21 / 1023, 'Harper sequence', ha='center', va='center', fontsize=21, color='black')


# ---------------- model panels
def model_panel(key, letter, t, models, ylim, yticks, ylabel, rlim, rticks, series, vline_t,
                legend_loc, legend_anchor, spacing):
    ax = fig.add_axes(pos[key])
    for name in ['Model1', 'Model2', 'Model3', 'Model4', 'Model5']:
        sns.lineplot(x=t, y=models[name], ax=ax, color=MODEL_COLORS[name], lw=2.0,
                     estimator=None, legend=False, zorder=MODEL_Z[name])
    ax.axvline(vline_t, color='black', lw=1.3, linestyle=(0, (9, 6)), zorder=6)
    setup_main(ax, ylim, yticks, ylabel, letter)
    ax2 = ax.twinx()
    for name, data, col in series:
        st, sv = zip(*data)
        sns.lineplot(x=list(st), y=list(sv), ax=ax2, color=col, lw=1.1, linestyle=DASH,
                     drawstyle='steps-post', estimator=None, legend=False, zorder=3)
    setup_twin(ax2, rlim, rticks, 'Injection rate (l/s)', MBLUE)
    ax2.set_xlim(2012, 2018)
    handles = [Line2D([], [], color=MODEL_COLORS[n], lw=2.2) for n in MODEL_COLORS]
    labels = list(MODEL_COLORS)
    for name, data, col in series:
        handles.append(Line2D([], [], color=col, lw=1.1, linestyle=DASH))
        labels.append(name)
    ax2.legend(handles, labels, loc=legend_loc, bbox_to_anchor=legend_anchor, frameon=False,
               fontsize=9.5, handlelength=2.9, handletextpad=0.5, labelspacing=spacing,
               borderaxespad=0.2, borderpad=0.2)
    return ax, ax2


milan_series = [('Rizzo', rizzo, '#3A64C8'), ('Dane', dane, '#C54CC5')]
harper_series = [('Ethan1', ethan1, '#3A64C8'), ('Ethan2', ethan2, '#111111'),
                 ('Craig', craig, '#C54CC5'), ('Pistol', pistol, '#FF2A2A')]

model_panel('c', '(c)', t_milan, dp_milan, (0, 0.04), [0, 0.005, 0.01, 0.015, 0.02, 0.025, 0.03, 0.035, 0.04],
            r'$\Delta$p (MPa)', (0, 18), list(range(0, 19, 2)), milan_series, mainshock_milan_t,
            'lower right', (0.99, 0.0), 0.2)
model_panel('d', '(d)', t_harper, dp_harper, (0, 0.16), [0, 0.02, 0.04, 0.06, 0.08, 0.1, 0.12, 0.14, 0.16],
            r'$\Delta$p (MPa)', (0, 35), list(range(0, 36, 5)), harper_series, mainshock_harper_t,
            'upper right', (0.995, 1.0), 0.1)
model_panel('e', '(e)', t_milan, cfs_milan, (0, 0.025), [0, 0.005, 0.01, 0.015, 0.02, 0.025],
            r'$\Delta$CFS (MPa)', (0, 18), list(range(0, 19, 2)), milan_series, mainshock_milan_t,
            'lower right', (0.99, 0.0), 0.2)
model_panel('f', '(f)', t_harper, cfs_harper, (0, 0.12), [0, 0.02, 0.04, 0.06, 0.08, 0.1, 0.12],
            r'$\Delta$CFS (MPa)', (0, 35), list(range(0, 36, 5)), harper_series, mainshock_harper_t,
            'upper right', (0.995, 1.0), 0.1)

fig.savefig('out.png', dpi=100)
